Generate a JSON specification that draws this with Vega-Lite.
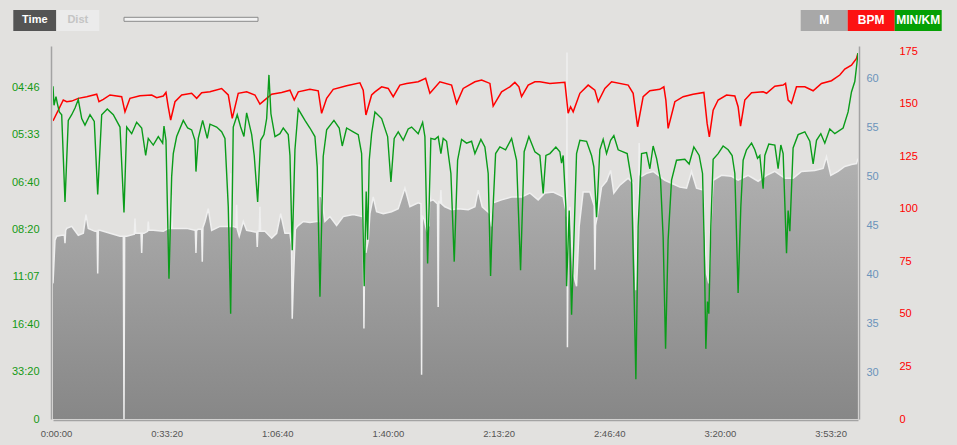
{
  "$schema": "https://vega.github.io/schema/vega-lite/v6.json",
  "width": 805,
  "height": 373,
  "autosize": {"type": "none"},
  "padding": {"left": 53, "top": 46, "right": 99, "bottom": 26},
  "background": "#e2e1df",
  "config": {
    "view": {"stroke": null},
    "font": "Liberation Sans",
    "axis": {"grid": false, "ticks": false, "title": null, "labelFont": "Liberation Sans", "labelFontSize": 11, "domainColor": "#a3a3a3", "domainWidth": 1.5}
  },
  "datasets": {
    "alt": [
      {"t":0,"m":39.1},{"t":36,"m":43.5},{"t":67,"m":43.9},{"t":157,"m":44.0},{"t":205,"m":44.0},{"t":217,"m":43.2},{"t":229,"m":44.5},{"t":248,"m":44.7},
      {"t":338,"m":44.9},{"t":457,"m":44.0},{"t":548,"m":44.2},{"t":596,"m":46.1},{"t":638,"m":44.7},{"t":759,"m":44.4},{"t":796,"m":44.4},{"t":808,"m":40.1},
      {"t":820,"m":44.5},{"t":849,"m":44.5},{"t":1030,"m":44.2},{"t":1211,"m":43.9},{"t":1271,"m":43.9},{"t":1283,"m":25.3},{"t":1295,"m":43.9},{"t":1332,"m":43.9},
      {"t":1470,"m":44.1},{"t":1482,"m":45.7},{"t":1494,"m":44.2},{"t":1591,"m":44.2},{"t":1603,"m":42.2},{"t":1615,"m":44.2},{"t":1644,"m":44.2},{"t":1710,"m":44.4},
      {"t":1722,"m":45.4},{"t":1734,"m":44.5},{"t":1812,"m":44.5},{"t":1993,"m":44.4},{"t":2087,"m":44.7},{"t":2133,"m":44.7},{"t":2145,"m":48.1},{"t":2157,"m":44.7},
      {"t":2205,"m":44.7},{"t":2416,"m":44.7},{"t":2566,"m":44.5},{"t":2572,"m":44.5},{"t":2584,"m":42.2},{"t":2596,"m":44.5},{"t":2620,"m":44.6},{"t":2686,"m":44.6},
      {"t":2698,"m":41.3},{"t":2710,"m":44.8},{"t":2747,"m":45.4},{"t":2806,"m":46.7},{"t":2868,"m":44.5},{"t":3018,"m":44.9},{"t":3168,"m":44.9},{"t":3199,"m":44.9},
      {"t":3211,"m":50.3},{"t":3223,"m":44.9},{"t":3258,"m":44.9},{"t":3307,"m":44.8},{"t":3319,"m":47.1},{"t":3331,"m":44.6},{"t":3366,"m":43.9},{"t":3439,"m":45.4},
      {"t":3500,"m":44.5},{"t":3591,"m":44.4},{"t":3680,"m":44.3},{"t":3692,"m":42.8},{"t":3704,"m":44.4},{"t":3728,"m":44.4},{"t":3740,"m":46.9},{"t":3752,"m":44.4},
      {"t":3831,"m":44.4},{"t":3952,"m":43.7},{"t":4042,"m":44.2},{"t":4115,"m":46.2},{"t":4192,"m":44.2},{"t":4283,"m":44.2},{"t":4310,"m":43.0},{"t":4324,"m":35.5},
      {"t":4342,"m":38.8},{"t":4380,"m":44.6},{"t":4415,"m":44.9},{"t":4523,"m":45.4},{"t":4644,"m":45.3},{"t":4765,"m":45.4},{"t":4800,"m":45.4},{"t":4812,"m":51.2},
      {"t":4824,"m":48.0},{"t":4855,"m":47.9},{"t":4915,"m":45.4},{"t":5005,"m":45.9},{"t":5126,"m":45.0},{"t":5246,"m":45.9},{"t":5426,"m":46.1},{"t":5593,"m":45.9},
      {"t":5608,"m":45.0},{"t":5620,"m":34.5},{"t":5634,"m":43.0},{"t":5656,"m":42.2},{"t":5698,"m":43.5},{"t":5728,"m":46.2},{"t":5788,"m":47.9},{"t":5849,"m":46.4},
      {"t":5969,"m":46.2},{"t":6120,"m":46.4},{"t":6240,"m":46.7},{"t":6361,"m":48.8},{"t":6451,"m":46.9},{"t":6601,"m":47.3},{"t":6650,"m":47.2},{"t":6662,"m":29.8},
      {"t":6674,"m":46.0},{"t":6709,"m":45.6},{"t":6753,"m":44.5},{"t":6800,"m":45.0},{"t":6812,"m":51.7},{"t":6824,"m":47.5},{"t":6872,"m":47.6},{"t":6950,"m":47.2},
      {"t":6962,"m":36.7},{"t":6974,"m":47.4},{"t":6999,"m":47.3},{"t":7011,"m":48.6},{"t":7023,"m":47.2},{"t":7083,"m":46.9},{"t":7204,"m":46.6},{"t":7324,"m":46.7},
      {"t":7505,"m":46.6},{"t":7626,"m":46.9},{"t":7685,"m":48.6},{"t":7758,"m":46.9},{"t":7897,"m":46.2},{"t":7927,"m":44.9},{"t":7956,"m":47.3},{"t":8108,"m":47.6},
      {"t":8289,"m":47.9},{"t":8469,"m":47.9},{"t":8619,"m":48.3},{"t":8769,"m":47.6},{"t":8890,"m":48.3},{"t":9040,"m":48.4},{"t":9221,"m":47.9},{"t":9270,"m":46.5},
      {"t":9283,"m":45.9},{"t":9290,"m":62.6},{"t":9298,"m":32.6},{"t":9310,"m":44.0},{"t":9342,"m":46.9},{"t":9402,"m":40.1},{"t":9463,"m":38.8},{"t":9510,"m":44.9},
      {"t":9582,"m":48.4},{"t":9704,"m":48.4},{"t":9782,"m":47.0},{"t":9794,"m":40.5},{"t":9806,"m":45.0},{"t":9836,"m":45.9},{"t":9915,"m":48.9},{"t":10005,"m":49.5},
      {"t":10078,"m":50.6},{"t":10137,"m":48.3},{"t":10246,"m":49.1},{"t":10396,"m":49.8},{"t":10486,"m":49.3},{"t":10535,"m":38.4},{"t":10583,"m":48.0},{"t":10595,"m":53.4},
      {"t":10607,"m":50.2},{"t":10638,"m":50.0},{"t":10728,"m":50.3},{"t":10847,"m":50.5},{"t":10968,"m":50.0},{"t":11059,"m":49.6},{"t":11180,"m":49.3},{"t":11330,"m":48.9},
      {"t":11451,"m":48.8},{"t":11541,"m":50.5},{"t":11632,"m":48.8},{"t":11751,"m":48.6},{"t":11812,"m":40.1},{"t":11854,"m":39.1},{"t":11890,"m":44.9},{"t":11932,"m":49.6},
      {"t":12083,"m":50.1},{"t":12264,"m":50.0},{"t":12383,"m":49.6},{"t":12564,"m":50.1},{"t":12745,"m":49.5},{"t":12897,"m":50.1},{"t":13047,"m":50.5},{"t":13227,"m":49.8},
      {"t":13377,"m":49.8},{"t":13529,"m":50.5},{"t":13769,"m":50.6},{"t":13919,"m":50.8},{"t":13980,"m":52.0},{"t":14058,"m":50.1},{"t":14190,"m":50.5},{"t":14311,"m":51.0},
      {"t":14432,"m":51.2},{"t":14523,"m":51.3},{"t":14548,"m":51.8}
    ],
    "hr": [
      {"t":0,"bpm":141.8},{"t":186,"bpm":151.7},{"t":248,"bpm":150.9},{"t":338,"bpm":151.2},{"t":457,"bpm":152.5},{"t":609,"bpm":153.3},{"t":790,"bpm":154.5},{"t":831,"bpm":150.9},
      {"t":909,"bpm":152.0},{"t":1030,"bpm":154.1},{"t":1241,"bpm":153.3},{"t":1301,"bpm":146.1},{"t":1391,"bpm":152.5},{"t":1572,"bpm":153.7},{"t":1784,"bpm":154.1},{"t":1874,"bpm":152.8},
      {"t":1993,"bpm":153.6},{"t":2042,"bpm":155.3},{"t":2083,"bpm":148.5},{"t":2127,"bpm":142.2},{"t":2205,"bpm":150.9},{"t":2326,"bpm":154.1},{"t":2506,"bpm":154.9},{"t":2597,"bpm":152.5},
      {"t":2687,"bpm":155.2},{"t":2837,"bpm":155.6},{"t":3048,"bpm":157.2},{"t":3168,"bpm":154.1},{"t":3240,"bpm":143.0},{"t":3348,"bpm":154.9},{"t":3500,"bpm":155.6},{"t":3650,"bpm":154.1},
      {"t":3740,"bpm":149.8},{"t":3862,"bpm":152.5},{"t":3952,"bpm":154.5},{"t":4133,"bpm":155.3},{"t":4283,"bpm":156.4},{"t":4360,"bpm":151.7},{"t":4433,"bpm":155.6},{"t":4644,"bpm":156.8},
      {"t":4794,"bpm":156.1},{"t":4855,"bpm":145.4},{"t":4946,"bpm":152.5},{"t":5065,"bpm":156.8},{"t":5307,"bpm":158.5},{"t":5547,"bpm":159.9},{"t":5607,"bpm":156.4},{"t":5656,"bpm":144.6},
      {"t":5759,"bpm":154.1},{"t":5819,"bpm":155.6},{"t":5940,"bpm":158.0},{"t":6059,"bpm":157.2},{"t":6149,"bpm":153.3},{"t":6270,"bpm":158.8},{"t":6391,"bpm":159.6},{"t":6601,"bpm":160.4},
      {"t":6735,"bpm":162.0},{"t":6812,"bpm":154.9},{"t":6993,"bpm":160.4},{"t":7204,"bpm":158.8},{"t":7295,"bpm":150.1},{"t":7414,"bpm":157.2},{"t":7626,"bpm":160.4},{"t":7747,"bpm":161.2},
      {"t":7897,"bpm":159.6},{"t":7956,"bpm":148.8},{"t":8108,"bpm":155.6},{"t":8258,"bpm":158.0},{"t":8348,"bpm":160.1},{"t":8421,"bpm":158.0},{"t":8469,"bpm":153.3},{"t":8589,"bpm":158.8},
      {"t":8710,"bpm":160.4},{"t":8800,"bpm":160.4},{"t":8981,"bpm":159.6},{"t":9252,"bpm":160.1},{"t":9311,"bpm":145.4},{"t":9355,"bpm":148.5},{"t":9402,"bpm":146.1},{"t":9523,"bpm":154.9},
      {"t":9673,"bpm":158.8},{"t":9794,"bpm":156.4},{"t":9854,"bpm":150.9},{"t":9975,"bpm":157.2},{"t":10096,"bpm":160.4},{"t":10396,"bpm":158.8},{"t":10486,"bpm":154.9},{"t":10566,"bpm":139.0},
      {"t":10667,"bpm":153.3},{"t":10788,"bpm":156.1},{"t":10968,"bpm":156.8},{"t":11041,"bpm":158.0},{"t":11077,"bpm":151.7},{"t":11118,"bpm":138.2},{"t":11240,"bpm":150.9},{"t":11390,"bpm":153.3},
      {"t":11570,"bpm":154.5},{"t":11764,"bpm":155.3},{"t":11823,"bpm":140.6},{"t":11863,"bpm":134.2},{"t":11932,"bpm":146.9},{"t":12022,"bpm":151.7},{"t":12174,"bpm":154.1},{"t":12324,"bpm":153.6},
      {"t":12383,"bpm":148.5},{"t":12427,"bpm":139.3},{"t":12504,"bpm":151.7},{"t":12626,"bpm":155.2},{"t":12835,"bpm":155.6},{"t":12897,"bpm":154.9},{"t":13047,"bpm":158.3},{"t":13197,"bpm":158.8},
      {"t":13240,"bpm":159.6},{"t":13287,"bpm":151.7},{"t":13348,"bpm":150.1},{"t":13438,"bpm":158.0},{"t":13589,"bpm":158.0},{"t":13739,"bpm":156.1},{"t":13890,"bpm":159.6},{"t":14071,"bpm":160.9},
      {"t":14221,"bpm":163.6},{"t":14311,"bpm":166.4},{"t":14432,"bpm":168.3},{"t":14523,"bpm":171.5},{"t":14548,"bpm":173.9}
    ],
    "pace": [
      {"t":0,"speed":3.51},{"t":18,"speed":3.31},{"t":54,"speed":3.40},{"t":78,"speed":3.33},{"t":114,"speed":3.24},{"t":157,"speed":3.21},{"t":217,"speed":2.29},{"t":276,"speed":3.15},
      {"t":338,"speed":3.21},{"t":398,"speed":3.28},{"t":457,"speed":3.37},{"t":519,"speed":3.17},{"t":578,"speed":3.10},{"t":669,"speed":3.21},{"t":746,"speed":3.14},{"t":808,"speed":2.37},
      {"t":880,"speed":3.21},{"t":981,"speed":3.27},{"t":1090,"speed":3.21},{"t":1211,"speed":3.08},{"t":1283,"speed":2.18},{"t":1332,"speed":3.08},{"t":1422,"speed":3.01},{"t":1512,"speed":3.13},
      {"t":1603,"speed":3.07},{"t":1675,"speed":2.78},{"t":1722,"speed":2.96},{"t":1812,"speed":2.89},{"t":1903,"speed":2.98},{"t":1982,"speed":2.91},{"t":2006,"speed":3.09},{"t":2042,"speed":2.94},
      {"t":2096,"speed":1.48},{"t":2145,"speed":2.56},{"t":2174,"speed":2.80},{"t":2235,"speed":2.98},{"t":2355,"speed":3.15},{"t":2434,"speed":3.07},{"t":2506,"speed":3.05},{"t":2566,"speed":2.94},
      {"t":2584,"speed":2.61},{"t":2626,"speed":2.96},{"t":2705,"speed":3.15},{"t":2788,"speed":2.96},{"t":2837,"speed":3.11},{"t":2958,"speed":3.08},{"t":3048,"speed":3.03},{"t":3108,"speed":2.96},
      {"t":3168,"speed":2.24},{"t":3211,"speed":1.11},{"t":3258,"speed":3.08},{"t":3330,"speed":3.21},{"t":3392,"speed":3.08},{"t":3451,"speed":2.98},{"t":3500,"speed":3.23},{"t":3591,"speed":3.00},
      {"t":3637,"speed":2.78},{"t":3699,"speed":2.29},{"t":3753,"speed":2.94},{"t":3813,"speed":3.00},{"t":3862,"speed":3.17},{"t":3903,"speed":3.63},{"t":3939,"speed":3.22},{"t":4012,"speed":2.98},
      {"t":4102,"speed":3.01},{"t":4162,"speed":3.07},{"t":4252,"speed":3.00},{"t":4283,"speed":2.78},{"t":4324,"speed":1.78},{"t":4373,"speed":2.84},{"t":4433,"speed":3.27},{"t":4554,"speed":3.15},
      {"t":4644,"speed":3.07},{"t":4734,"speed":2.98},{"t":4776,"speed":2.66},{"t":4825,"speed":1.29},{"t":4884,"speed":2.77},{"t":4946,"speed":3.05},{"t":5078,"speed":3.15},{"t":5173,"speed":3.07},
      {"t":5228,"speed":2.88},{"t":5307,"speed":3.07},{"t":5426,"speed":3.03},{"t":5517,"speed":3.00},{"t":5578,"speed":2.80},{"t":5625,"speed":1.40},{"t":5661,"speed":2.40},{"t":5687,"speed":1.89},
      {"t":5716,"speed":2.73},{"t":5759,"speed":3.01},{"t":5819,"speed":3.24},{"t":5940,"speed":3.17},{"t":6048,"speed":2.98},{"t":6108,"speed":2.50},{"t":6167,"speed":2.96},{"t":6240,"speed":3.03},
      {"t":6330,"speed":2.94},{"t":6420,"speed":3.06},{"t":6482,"speed":3.08},{"t":6601,"speed":3.01},{"t":6681,"speed":3.13},{"t":6722,"speed":2.98},{"t":6771,"speed":1.64},{"t":6830,"speed":2.96},
      {"t":6903,"speed":2.95},{"t":6962,"speed":2.98},{"t":7011,"speed":2.80},{"t":7053,"speed":2.96},{"t":7114,"speed":2.93},{"t":7192,"speed":2.59},{"t":7252,"speed":1.66},{"t":7313,"speed":2.73},
      {"t":7385,"speed":2.95},{"t":7475,"speed":2.91},{"t":7566,"speed":2.93},{"t":7626,"speed":2.80},{"t":7734,"speed":2.95},{"t":7806,"speed":2.87},{"t":7866,"speed":2.59},{"t":7909,"speed":1.51},
      {"t":7938,"speed":2.03},{"t":8000,"speed":2.80},{"t":8077,"speed":2.87},{"t":8180,"speed":2.84},{"t":8289,"speed":2.96},{"t":8379,"speed":2.73},{"t":8451,"speed":1.57},{"t":8516,"speed":2.82},
      {"t":8601,"speed":2.98},{"t":8710,"speed":2.82},{"t":8800,"speed":2.78},{"t":8860,"speed":2.38},{"t":8909,"speed":2.78},{"t":8981,"speed":2.80},{"t":9089,"speed":2.87},{"t":9161,"speed":2.82},
      {"t":9192,"speed":2.70},{"t":9221,"speed":2.78},{"t":9270,"speed":2.24},{"t":9283,"speed":1.40},{"t":9330,"speed":2.20},{"t":9373,"speed":1.10},{"t":9415,"speed":1.89},{"t":9463,"speed":2.80},
      {"t":9523,"speed":2.94},{"t":9644,"speed":2.93},{"t":9734,"speed":2.78},{"t":9776,"speed":2.66},{"t":9825,"speed":2.13},{"t":9884,"speed":2.84},{"t":9944,"speed":2.95},{"t":10005,"speed":2.80},
      {"t":10078,"speed":2.94},{"t":10137,"speed":2.99},{"t":10215,"speed":2.84},{"t":10378,"speed":2.80},{"t":10457,"speed":2.52},{"t":10504,"speed":1.29},{"t":10535,"speed":0.42},{"t":10576,"speed":2.03},
      {"t":10638,"speed":2.80},{"t":10728,"speed":2.81},{"t":10788,"speed":2.64},{"t":10847,"speed":2.88},{"t":10909,"speed":2.75},{"t":10981,"speed":2.52},{"t":11028,"speed":1.92},{"t":11072,"speed":0.74},
      {"t":11118,"speed":1.89},{"t":11180,"speed":2.52},{"t":11270,"speed":2.73},{"t":11420,"speed":2.74},{"t":11498,"speed":2.69},{"t":11583,"speed":2.87},{"t":11679,"speed":2.78},{"t":11740,"speed":2.59},
      {"t":11769,"speed":1.89},{"t":11800,"speed":0.74},{"t":11830,"speed":1.24},{"t":11854,"speed":1.11},{"t":11890,"speed":2.03},{"t":11932,"speed":2.74},{"t":12022,"speed":2.80},{"t":12112,"speed":2.88},
      {"t":12203,"speed":2.84},{"t":12275,"speed":2.78},{"t":12324,"speed":2.59},{"t":12383,"speed":1.33},{"t":12432,"speed":2.24},{"t":12474,"speed":2.73},{"t":12535,"speed":2.84},{"t":12626,"speed":2.91},
      {"t":12685,"speed":2.84},{"t":12734,"speed":2.75},{"t":12775,"speed":2.78},{"t":12835,"speed":2.43},{"t":12866,"speed":2.78},{"t":12938,"speed":2.90},{"t":13047,"speed":2.89},{"t":13106,"speed":2.64},
      {"t":13155,"speed":2.89},{"t":13197,"speed":2.80},{"t":13258,"speed":1.75},{"t":13287,"speed":2.20},{"t":13318,"speed":1.98},{"t":13377,"speed":2.86},{"t":13468,"speed":3.00},{"t":13589,"speed":3.03},
      {"t":13679,"speed":2.93},{"t":13739,"speed":2.69},{"t":13800,"speed":2.94},{"t":13878,"speed":3.01},{"t":13950,"speed":2.91},{"t":14040,"speed":3.06},{"t":14131,"speed":3.01},{"t":14281,"speed":3.07},
      {"t":14371,"speed":3.24},{"t":14432,"speed":3.45},{"t":14492,"speed":3.56},{"t":14530,"speed":3.75},{"t":14548,"speed":3.86}
    ]
  },
  "encoding": {
    "x": {
      "field": "t", "type": "quantitative",
      "scale": {"domain": [0, 14550], "nice": false, "zero": false},
      "axis": {
        "values": [0, 2000, 4000, 6000, 8000, 10000, 12000, 14000],
        "labelExpr": "floor(datum.value / 3600) + ':' + pad('' + floor((datum.value % 3600) / 60), 2, '0', 'left') + ':' + pad('' + (datum.value % 60), 2, '0', 'left')",
        "offset": 1, "labelPadding": 8, "labelOffset": 3, "labelFlush": false, "labelColor": "#555555", "labelFontSize": 9.5
      }
    }
  },
  "layer": [
    {
      "data": {"name": "alt"},
      "encoding": {
        "y": {
          "field": "m", "type": "quantitative",
          "scale": {"domain": [25.29, 63.27], "nice": false, "zero": false},
          "axis": {"orient": "right", "values": [30, 35, 40, 45, 50, 55, 60], "offset": 1, "labelPadding": 7, "labelColor": "#6b93bb"}
        }
      },
      "layer": [
        {
          "mark": {
            "type": "area", "clip": true,
            "color": {
              "gradient": "linear", "x1": 0, "y1": 0, "x2": 0, "y2": 1,
              "stops": [{"offset": 0, "color": "#c2c2c2"}, {"offset": 1, "color": "#878787"}]
            }
          },
          "encoding": {"y2": {"datum": 25.29}}
        },
        {
          "mark": {"type": "line", "clip": true, "strokeWidth": 1.5},
          "encoding": {
            "stroke": {
              "datum": "Dist", "type": "nominal",
              "scale": {"domain": ["Time", "Dist"], "range": ["#555555", "#efefef"]},
              "legend": {
                "orient": "none", "legendX": -39.7, "legendY": -47.5, "direction": "horizontal", "title": null,
                "symbolType": "M-1,-0.49H1V0.49H-1Z", "symbolSize": 1849, "symbolStrokeWidth": 0,
                "symbolFillColor": {"expr": "datum.value == 'Time' ? '#545454' : '#ebebeb'"},
                "labelOffset": -21.5, "labelAlign": "center", "labelFontSize": 11, "labelFontWeight": "bold",
                "labelFont": "Liberation Sans", "columnPadding": 0, "padding": 0,
                "labelColor": {"expr": "datum.value == 'Time' ? '#ffffff' : '#c4c4c4'"}
              }
            }
          }
        }
      ]
    },
    {
      "data": {"name": "hr"},
      "mark": {"type": "line", "clip": true, "strokeWidth": 1.5},
      "encoding": {
        "y": {
          "field": "bpm", "type": "quantitative",
          "scale": {"domain": [0, 177.4], "nice": false, "zero": false},
          "axis": {"orient": "right", "values": [0, 25, 50, 75, 100, 125, 150, 175], "offset": 36, "labelPadding": 5, "domain": false, "labelColor": "#ff0000"}
        },
        "color": {
          "datum": "BPM", "type": "nominal",
          "scale": {"domain": ["M", "BPM", "MIN/KM"], "range": ["#a9a9a9", "#ff0000", "#0a9c1a"]},
          "legend": {
            "orient": "none", "legendX": 747.7, "legendY": -49.5, "direction": "horizontal", "title": null,
            "symbolType": "M-1,-0.45H1V0.45H-1Z", "symbolSize": 2209, "symbolStrokeWidth": 0,
            "symbolFillColor": {"expr": "datum.value == 'M' ? '#a8a8a8' : datum.value == 'BPM' ? '#fc1212' : '#05a005'"},
            "labelOffset": -23.5, "labelAlign": "center", "labelColor": "#ffffff", "labelFontSize": 12,
            "labelFontWeight": "bold", "labelFont": "Liberation Sans", "columnPadding": 0, "padding": 0
          }
        }
      }
    },
    {
      "data": {"name": "pace"},
      "mark": {"type": "line", "clip": true, "strokeWidth": 1.4, "color": "#0a9c1a", "fillOpacity": 0},
      "encoding": {
        "y": {
          "field": "speed", "type": "quantitative",
          "scale": {"domain": [0, 3.935], "nice": false, "zero": false},
          "axis": {
            "orient": "left", "values": [0, 0.5, 1, 1.5, 2, 2.5, 3, 3.5], "offset": 2, "labelPadding": 12, "labelColor": "#149914",
            "labelExpr": "datum.value == 0 ? '0' : pad('' + floor(round(1000 / datum.value) / 60), 2, '0', 'left') + ':' + pad('' + (round(1000 / datum.value) % 60), 2, '0', 'left')"
          }
        },
        "fill": {
          "datum": 1, "type": "quantitative",
          "scale": {"domain": [0, 2], "range": ["#f3f3f3", "#f3f3f3"]},
          "legend": {
            "orient": "none", "legendX": 71, "legendY": -28.7, "direction": "horizontal", "title": null,
            "gradientLength": 134, "gradientThickness": 4, "gradientStrokeColor": "#8a8a8a", "gradientStrokeWidth": 1,
            "values": [], "labelOpacity": 0, "padding": 0
          }
        }
      }
    }
  ],
  "resolve": {"scale": {"y": "independent"}, "axis": {"y": "independent"}}
}
